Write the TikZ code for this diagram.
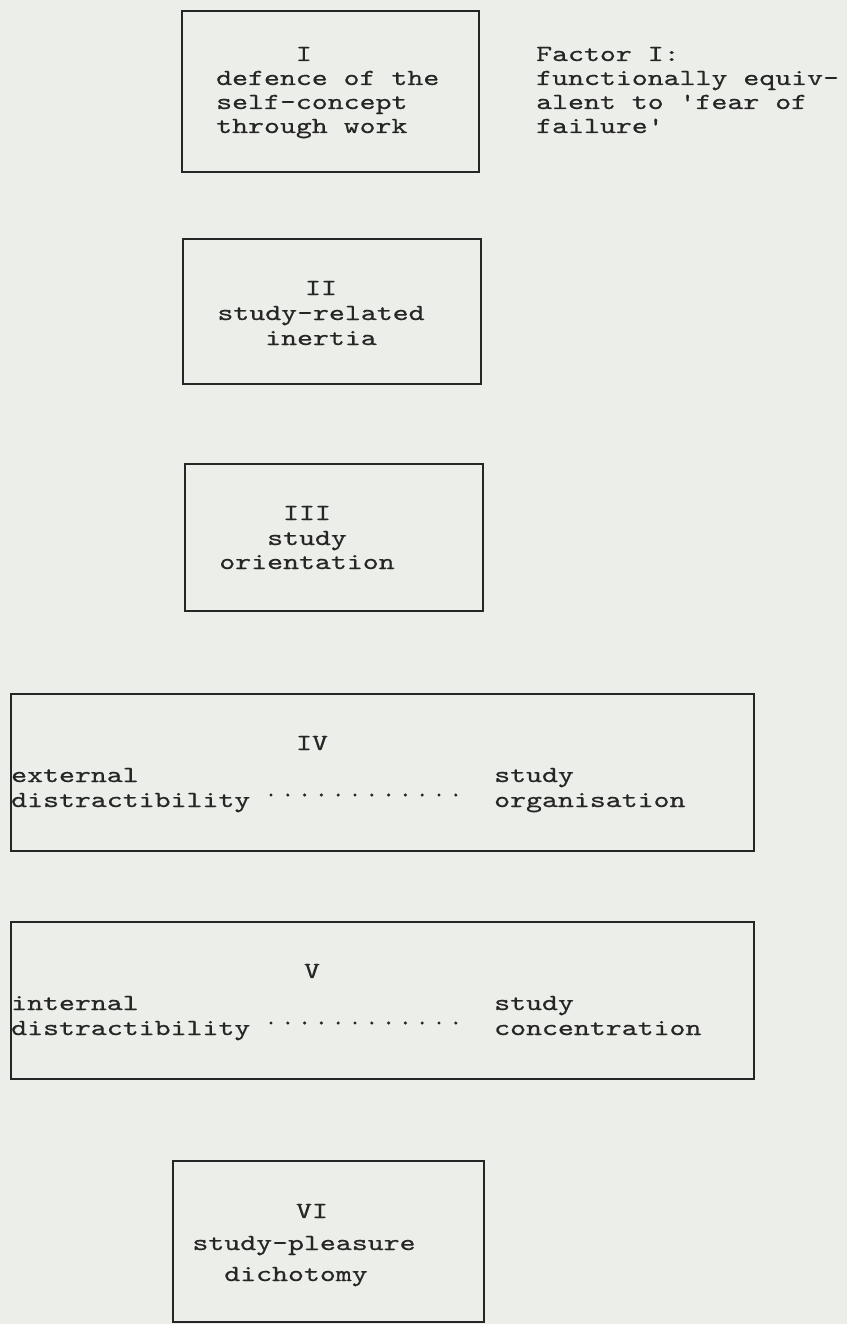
\documentclass[tikz,border=0pt]{standalone}
\usepackage{fontspec}
\setmonofont{lmmono10-regular.otf}[FakeStretch=1.32,FakeBold=0.6]
\definecolor{paper}{RGB}{236,238,233}
\definecolor{ink}{RGB}{38,38,38}
\begin{document}
\begin{tikzpicture}[x=1pt,y=-1pt,
  box/.style={draw=ink, line width=1.8pt, inner sep=0pt, anchor=north west},
  txt/.style={font=\ttfamily\fontsize{23}{26}\selectfont, text=ink, inner sep=0pt},
  dots/.style={draw=ink, line width=3.4pt, line cap=round, dash pattern=on 0pt off 16.8pt}]
\fill[paper] (0,0) rectangle (847,1324);
\useasboundingbox (0,0) rectangle (847,1324);

% Box I
\node[box, minimum width=297pt, minimum height=161pt] (b1) at (181,10) {};
\node[txt, anchor=base west] (t1a) at (216,61) {\phantom{xxxxx}I};
\node[txt, anchor=base west] (t1b) at (216,85) {defence of the};
\node[txt, anchor=base west] (t1c) at (216,109) {self-concept};
\node[txt, anchor=base west] (t1d) at (216,133) {through work};
\node[txt, anchor=base west] (f1a) at (536,61) {Factor I:};
\node[txt, anchor=base west] (f1b) at (536,85) {functionally equiv-};
\node[txt, anchor=base west] (f1c) at (536,109) {alent to 'fear of};
\node[txt, anchor=base west] (f1d) at (536,133) {failure'};

% Box II
\node[box, minimum width=298pt, minimum height=145pt] (b2) at (182,238) {};
\node[txt, anchor=base] (t2a) at (321,295) {II};
\node[txt, anchor=base] (t2b) at (321,320) {study-related};
\node[txt, anchor=base] (t2c) at (321,345) {inertia};

% Box III
\node[box, minimum width=298pt, minimum height=147pt] (b3) at (184,463) {};
\node[txt, anchor=base] (t3a) at (307,520) {III};
\node[txt, anchor=base] (t3b) at (307,545) {study};
\node[txt, anchor=base] (t3c) at (307,569) {orientation};

% Box IV
\node[box, minimum width=743pt, minimum height=157pt] (b4) at (10,693) {};
\node[txt, anchor=base] (t4a) at (312,750) {IV};
\node[txt, anchor=base west] (t4b) at (11,782) {external};
\node[txt, anchor=base west] (t4c) at (11,807) {distractibility};
\node[txt, anchor=base west] (t4d) at (494,782) {study};
\node[txt, anchor=base west] (t4e) at (494,807) {organisation};
\coordinate (d4a) at (271,795);
\coordinate (d4b) at (456,795);
\draw[dots] (d4a) -- (d4b);

% Box V
\node[box, minimum width=743pt, minimum height=157pt] (b5) at (10,921) {};
\node[txt, anchor=base] (t5a) at (312,978) {V};
\node[txt, anchor=base west] (t5b) at (11,1010) {internal};
\node[txt, anchor=base west] (t5c) at (11,1035) {distractibility};
\node[txt, anchor=base west] (t5d) at (494,1010) {study};
\node[txt, anchor=base west] (t5e) at (494,1035) {concentration};
\coordinate (d5a) at (271,1023);
\coordinate (d5b) at (456,1023);
\draw[dots] (d5a) -- (d5b);

% Box VI
\node[box, minimum width=311pt, minimum height=161pt] (b6) at (172,1160) {};
\node[txt, anchor=base] (t6a) at (312,1218) {VI};
\node[txt, anchor=base] (t6b) at (304,1250) {study-pleasure};
\node[txt, anchor=base] (t6c) at (296,1281) {dichotomy};
\end{tikzpicture}
\end{document}
